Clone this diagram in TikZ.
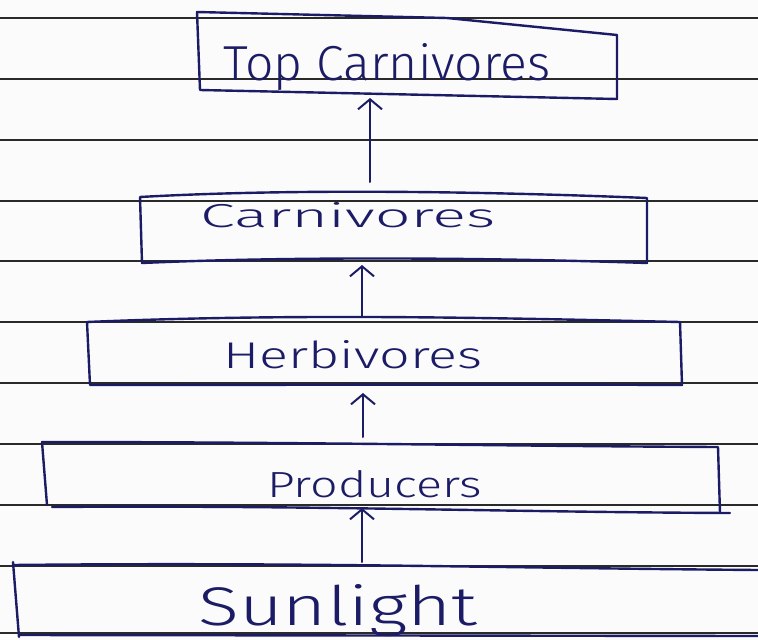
\documentclass[tikz,border=0pt]{standalone}
\usepackage{fontspec}
\usetikzlibrary{arrows.meta}
\newfontfamily\hand{Fira Sans Light}
\definecolor{ink}{HTML}{1C1C66}
\definecolor{rule}{HTML}{2A2A2A}
\definecolor{paper}{HTML}{FBFBFB}
% fit a label into a given width and height (pt)
\newcommand{\handtext}[3]{\resizebox{#1pt}{#2pt}{\hand #3}}
\tikzset{
  ruling/.style={draw=rule, line width=1.9pt},
  inkbox/.style={draw=ink, line width=2.4pt, line join=round, line cap=round},
  label/.style={text=ink, inner sep=0pt, anchor=base west},
  arr/.style={draw=ink, line width=2pt, line cap=round,
    -{Straight Barb[length=10pt,width=24pt,line width=2pt]}}
}
\begin{document}
\begin{tikzpicture}[x=1pt,y=-1pt]
  \fill[paper] (0,0) rectangle (758,640);
  \useasboundingbox (0,0) rectangle (758,640);

  % ruled lines of the notebook page
  \foreach \yy in {18,79,140,201,261,322,383,444,505,566,633}
    \draw[ruling] (0,\yy) -- (758,\yy);

  % box outlines
  \draw[inkbox] (197,12) -- (447,18) -- (617,35) -- (617,99)
                -- (200,90) -- cycle;
  \draw[inkbox] (140,197) .. controls (300,188) and (500,192) .. (647,198)
                -- (647,263) .. controls (500,258) and (300,256) .. (142,263) -- cycle;
  \draw[inkbox] (87,322) .. controls (300,313) and (500,318) .. (680,322)
                -- (682,385) .. controls (500,384) and (300,385) .. (90,385) -- cycle;
  \draw[inkbox] (42,442) .. controls (300,442) and (500,446) .. (718,447)
                -- (720,513);
  \draw[inkbox] (42,442) -- (47,505);
  \draw[inkbox] (52,507) .. controls (300,505) and (500,512) .. (730,513);
  \draw[inkbox] (13,562) -- (19,637);
  \draw[inkbox] (13,565) .. controls (300,562) and (500,568) .. (758,570);
  \draw[inkbox] (19,635) -- (758,636);

  % labels
  \node[label] (top)  at (223,80)  {\handtext{327}{37}{Top Carnivores}};
  \node[label] (carn) at (200,227) {\handtext{295}{25}{Carnivores}};
  \node[label] (herb) at (223,368) {\handtext{259}{28}{Herbivores}};
  \node[label] (prod) at (267,497) {\handtext{215}{27}{Producers}};
  \node[label] (sun)  at (198,625) {\handtext{279}{41}{Sunlight}};

  % arrow ends on the box edges
  \coordinate (top-s)  at (370,98);
  \coordinate (carn-n) at (370,182);
  \coordinate (carn-s) at (362,265);
  \coordinate (herb-n) at (362,317);
  \coordinate (herb-s) at (363,393);
  \coordinate (prod-n) at (363,437);
  \coordinate (prod-s) at (362,508);
  \coordinate (sun-n)  at (362,562);

  \draw[arr] (carn-n) -- (top-s);
  \draw[arr] (herb-n) -- (carn-s);
  \draw[arr] (prod-n) -- (herb-s);
  \draw[arr] (sun-n)  -- (prod-s);
\end{tikzpicture}
\end{document}
